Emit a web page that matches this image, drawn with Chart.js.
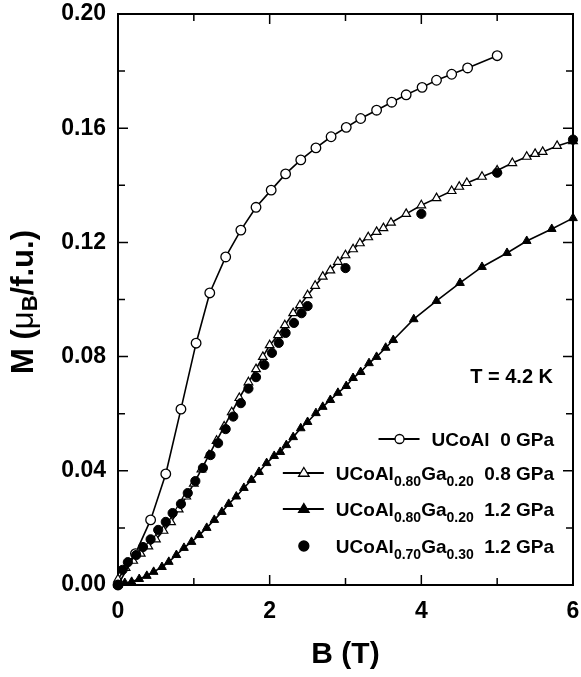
<!DOCTYPE html>
<html>
<head>
<meta charset="utf-8">
<script src="https://cdn.jsdelivr.net/npm/chart.js@4.4.0/dist/chart.umd.min.js"></script>
<style>
body { margin: 0; background: #fff; }
#wrap { width: 581px; height: 677px; }
</style>
</head>
<body>
<div id="wrap"><canvas id="magChart" width="581" height="677"></canvas></div>
<script>
// ------ data ------//
var xTicks = [0, 2, 4, 6]
var yTicks = [0.00, 0.04, 0.08, 0.12, 0.16, 0.20]

// UCoAl 0 GPa (open circles)
var bUCoAl = [0, 0.23, 0.43, 0.63, 0.83, 1.03, 1.21, 1.42, 1.62, 1.82, 2.02, 2.21, 2.41, 2.61, 2.81, 3.01, 3.2, 3.41, 3.61, 3.8, 4.01, 4.2, 4.4, 4.61, 5.0]
var mUCoAl = [0, 0.011, 0.0228, 0.0389, 0.0616, 0.0847, 0.1023, 0.1149, 0.1243, 0.1323, 0.1383, 0.144, 0.1489, 0.1531, 0.157, 0.1603, 0.1634, 0.1663, 0.1691, 0.1717, 0.1743, 0.1768, 0.1789, 0.1811, 0.1854]

// UCoAl0.80Ga0.20 0.8 GPa (open triangles)
var bGa20low = [0, 0.1, 0.2, 0.3, 0.4, 0.5, 0.6, 0.7, 0.8, 0.9, 1.0, 1.1, 1.2, 1.3, 1.4, 1.5, 1.6, 1.72, 1.82, 1.91, 2.0, 2.11, 2.2, 2.31, 2.4, 2.5, 2.6, 2.7, 2.8, 2.9, 3.0, 3.1, 3.19, 3.3, 3.41, 3.5, 3.6, 3.8, 4.0, 4.2, 4.4, 4.5, 4.6, 4.8, 5.0, 5.2, 5.39, 5.5, 5.6, 5.79, 6.0]
var mGa20low = [0.002, 0.006, 0.0085, 0.011, 0.0135, 0.016, 0.019, 0.022, 0.0265, 0.031, 0.0355, 0.0405, 0.0455, 0.0505, 0.0555, 0.0605, 0.0655, 0.071, 0.0756, 0.0799, 0.084, 0.0875, 0.091, 0.0952, 0.098, 0.1015, 0.1048, 0.108, 0.1102, 0.1132, 0.1155, 0.1176, 0.1197, 0.1218, 0.1237, 0.125, 0.1269, 0.130, 0.133, 0.1355, 0.138, 0.1395, 0.1408, 0.143, 0.1452, 0.1478, 0.150, 0.151, 0.1517, 0.1538, 0.1555]

// UCoAl0.80Ga0.20 1.2 GPa (filled triangles)
var bGa20high = [0, 0.09, 0.18, 0.28, 0.38, 0.47, 0.58, 0.67, 0.77, 0.87, 0.97, 1.07, 1.17, 1.27, 1.37, 1.46, 1.56, 1.66, 1.76, 1.86, 1.96, 2.06, 2.14, 2.22, 2.31, 2.41, 2.5, 2.61, 2.7, 2.8, 2.9, 3.01, 3.1, 3.2, 3.31, 3.41, 3.53, 3.63, 3.9, 4.2, 4.51, 4.8, 5.13, 5.39, 5.72, 6.0]
var mGa20high = [0, 0.0007, 0.0011, 0.0021, 0.0032, 0.0046, 0.0063, 0.0081, 0.0105, 0.013, 0.0151, 0.0175, 0.02, 0.0228, 0.0256, 0.0284, 0.031, 0.034, 0.0368, 0.0396, 0.0427, 0.0452, 0.0466, 0.049, 0.0518, 0.0549, 0.0571, 0.0602, 0.0624, 0.0648, 0.0673, 0.0697, 0.0725, 0.0746, 0.0777, 0.0799, 0.0831, 0.0858, 0.0931, 0.0995, 0.1058, 0.1114, 0.1163, 0.1205, 0.1247, 0.1285]

// UCoAl0.70Ga0.30 1.2 GPa (filled circles)
var bGa30 = [0, 0.06, 0.13, 0.24, 0.33, 0.43, 0.53, 0.63, 0.72, 0.83, 0.92, 1.02, 1.12, 1.22, 1.32, 1.42, 1.52, 1.62, 1.72, 1.82, 1.93, 2.03, 2.12, 2.21, 2.32, 2.42, 2.5, 3.0, 4.0, 5.0, 6.0]
var mGa30 = [0, 0.0053, 0.008, 0.0105, 0.0133, 0.016, 0.0193, 0.0221, 0.0252, 0.0284, 0.0322, 0.0364, 0.041, 0.0455, 0.0497, 0.0546, 0.059, 0.0637, 0.0688, 0.0728, 0.0771, 0.0813, 0.0848, 0.0883, 0.0918, 0.0952, 0.0977, 0.111, 0.130, 0.1444, 0.156]

var FONT = "'Liberation Sans', Arial, sans-serif"

function pts(bs, ms) {
	return bs.map(function (b, i) { return { x: b, y: ms[i] } })
}

// ------ frame, inward ticks, legend, y title ------//
function drawRich(ctx, parts, x, y, size) {
	// parts: [text, isSub]
	var cx = x
	ctx.fillStyle = '#000'
	parts.forEach(function (p) {
		if (p[1]) {
			ctx.font = 'bold ' + Math.round(size * 0.72) + 'px ' + FONT
			ctx.fillText(p[0], cx, y + size * 0.3)
		} else {
			ctx.font = 'bold ' + size + 'px ' + FONT
			ctx.fillText(p[0], cx, y)
		}
		cx += ctx.measureText(p[0]).width
	})
	return cx - x
}
function richWidth(ctx, parts, size) {
	var w = 0
	parts.forEach(function (p) {
		ctx.font = 'bold ' + (p[1] ? Math.round(size * 0.72) : size) + 'px ' + FONT
		w += ctx.measureText(p[0]).width
	})
	return w
}
function marker(ctx, style, filled, x, y, r) {
	ctx.beginPath()
	if (style == 'circle') {
		ctx.arc(x, y, r, 0, Math.PI * 2)
	} else {
		ctx.moveTo(x, y - r * 1.1)
		ctx.lineTo(x + r * 1.05, y + r * 0.65)
		ctx.lineTo(x - r * 1.05, y + r * 0.65)
		ctx.closePath()
	}
	ctx.fillStyle = filled ? '#000' : '#fff'
	ctx.fill()
	ctx.lineWidth = 1.3
	ctx.strokeStyle = '#000'
	ctx.stroke()
}

var framePlugin = {
	id: 'frame',
	beforeDatasetsDraw: function (chart) {
		var ctx = chart.ctx, a = chart.chartArea
		var xs = chart.scales.x, ys = chart.scales.y
		ctx.save()
		ctx.strokeStyle = '#000'
		ctx.lineWidth = 2
		ctx.strokeRect(a.left, a.top, a.right - a.left, a.bottom - a.top)
		ctx.lineWidth = 1.5
		for (var b = 0; b <= 6; b++) {
			var px = xs.getPixelForValue(b)
			var len = b % 2 == 0 ? 10 : 7
			ctx.beginPath()
			ctx.moveTo(px, a.bottom); ctx.lineTo(px, a.bottom - len)
			ctx.moveTo(px, a.top); ctx.lineTo(px, a.top + len)
			ctx.stroke()
		}
		for (var k = 0; k <= 10; k++) {
			var py = ys.getPixelForValue(k * 0.02)
			var len2 = k % 2 == 0 ? 10 : 7
			ctx.beginPath()
			ctx.moveTo(a.left, py); ctx.lineTo(a.left + len2, py)
			ctx.moveTo(a.right, py); ctx.lineTo(a.right - len2, py)
			ctx.stroke()
		}
		ctx.restore()
	},
	afterDraw: function (chart) {
		var ctx = chart.ctx
		ctx.save()
		ctx.fillStyle = '#000'
		ctx.textBaseline = 'alphabetic'

		// temperature note
		ctx.font = 'bold 20px ' + FONT
		ctx.textAlign = 'right'
		ctx.fillText('T = 4.2 K', 553, 383)
		ctx.textAlign = 'left'

		// legend
		var size = 19, right = 554
		var rows = [
			{ y: 439, parts: [['UCoAl  0 GPa', 0]], style: 'circle', filled: false, line: true },
			{ y: 473, parts: [['UCoAl', 0], ['0.80', 1], ['Ga', 0], ['0.20', 1], ['  0.8 GPa', 0]], style: 'triangle', filled: false, line: true },
			{ y: 509, parts: [['UCoAl', 0], ['0.80', 1], ['Ga', 0], ['0.20', 1], ['  1.2 GPa', 0]], style: 'triangle', filled: true, line: true },
			{ y: 546, parts: [['UCoAl', 0], ['0.70', 1], ['Ga', 0], ['0.30', 1], ['  1.2 GPa', 0]], style: 'circle', filled: true, line: false }
		]
		rows.forEach(function (r) {
			var w = richWidth(ctx, r.parts, size)
			var tx = right - w
			drawRich(ctx, r.parts, tx, r.y + 7, size)
			var mx = tx - 32
			if (r.line) {
				ctx.beginPath()
				ctx.lineWidth = 1.8
				ctx.strokeStyle = '#000'
				ctx.moveTo(tx - 53, r.y); ctx.lineTo(tx - 12, r.y)
				ctx.stroke()
			}
			marker(ctx, r.style, r.filled, mx, r.y, r.style == 'circle' ? (r.filled ? 5 : 4.5) : 5)
		})

		// y axis title with subscript
		ctx.fillStyle = '#000'
		ctx.translate(24, 302)
		ctx.rotate(-Math.PI / 2)
		ctx.textBaseline = 'middle'
		var ts = 31
		var segs = [['M (', 'bold ' + ts + 'px ' + FONT, 0], ['\u03bc', ts + 'px ' + FONT, 0], ['B', 'bold ' + Math.round(ts * 0.72) + 'px ' + FONT, 7], ['/f.u.)', 'bold ' + ts + 'px ' + FONT, 0]]
		var tw = 0
		segs.forEach(function (s) { ctx.font = s[1]; tw += ctx.measureText(s[0]).width })
		var cx = -tw / 2
		segs.forEach(function (s) {
			ctx.font = s[1]
			ctx.fillText(s[0], cx, s[2])
			cx += ctx.measureText(s[0]).width
		})
		ctx.restore()
	}
}

// ------ chart ------//
var ctx = document.getElementById('magChart')
var data = {
	datasets: [
		{
			label: 'UCoAl0.70Ga0.30 1.2 GPa',
			data: pts(bGa30, mGa30),
			showLine: false,
			pointStyle: 'circle',
			pointRadius: 4.6,
			backgroundColor: '#000',
			borderColor: '#000',
			pointBorderWidth: 1,
			clip: false
		},
		{
			label: 'UCoAl 0 GPa',
			data: pts(bUCoAl, mUCoAl),
			showLine: true,
			borderColor: '#000',
			borderWidth: 1.6,
			pointStyle: 'circle',
			pointRadius: 4.8,
			pointBackgroundColor: '#fff',
			pointBorderColor: '#000',
			pointBorderWidth: 1.3,
			clip: false
		},
		{
			label: 'UCoAl0.80Ga0.20 0.8 GPa',
			data: pts(bGa20low, mGa20low),
			showLine: true,
			borderColor: '#000',
			borderWidth: 1.6,
			pointStyle: 'triangle',
			pointRadius: 5,
			pointBackgroundColor: '#fff',
			pointBorderColor: '#000',
			pointBorderWidth: 1.2,
			clip: false
		},
		{
			label: 'UCoAl0.80Ga0.20 1.2 GPa',
			data: pts(bGa20high, mGa20high),
			showLine: true,
			borderColor: '#000',
			borderWidth: 1.6,
			pointStyle: 'triangle',
			pointRadius: 5,
			pointBackgroundColor: '#000',
			pointBorderColor: '#000',
			pointBorderWidth: 1,
			clip: false
		}
	]
}

var options = {
	responsive: false,
	animation: false,
	layout: { padding: { top: 14, right: 8, left: 0, bottom: 0 } },
	plugins: {
		legend: { display: false },
		tooltip: { enabled: false }
	},
	scales: {
		x: {
			type: 'linear',
			min: 0,
			max: 6,
			grid: { display: false, drawTicks: false },
			border: { display: false },
			afterFit: function (s) { s.height = 92; s.paddingLeft = 0; s.paddingRight = 0 },
			afterBuildTicks: function (s) { s.ticks = xTicks.map(function (v) { return { value: v } }) },
			ticks: {
				padding: 13,
				color: '#000',
				font: { family: FONT, size: 23, weight: 'bold' },
				callback: function (v) { return v }
			},
			title: {
				display: true,
				text: 'B (T)',
				color: '#000',
				font: { family: FONT, size: 30, weight: 'bold' },
				padding: { top: 0, bottom: 4 }
			}
		},
		y: {
			type: 'linear',
			min: 0,
			max: 0.2,
			grid: { display: false, drawTicks: false },
			border: { display: false },
			afterFit: function (s) { s.width = 118; s.paddingTop = 0; s.paddingBottom = 0 },
			afterBuildTicks: function (s) { s.ticks = yTicks.map(function (v) { return { value: v } }) },
			ticks: {
				padding: 12,
				color: '#000',
				font: { family: FONT, size: 23, weight: 'bold' },
				callback: function (v) { return v.toFixed(2) }
			}
		}
	}
}

var magChart = new Chart(ctx, {
	type: 'scatter',
	data: data,
	options: options,
	plugins: [framePlugin]
})
</script>
</body>
</html>
